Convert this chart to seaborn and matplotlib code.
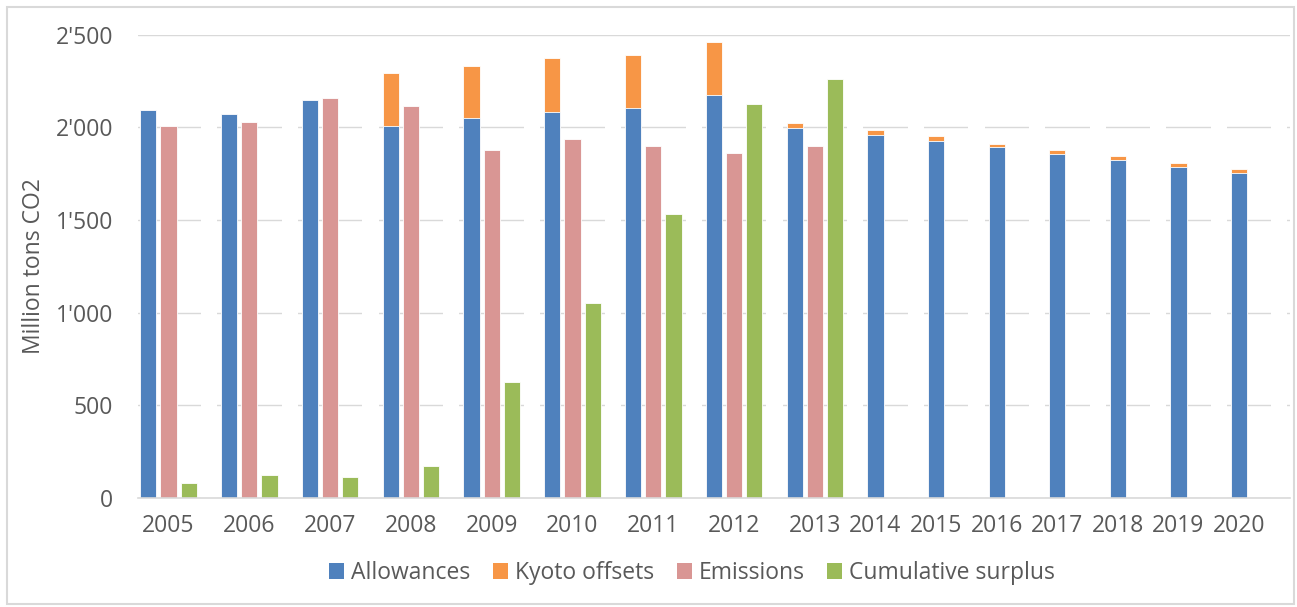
import numpy as np
import pandas as pd
import matplotlib
matplotlib.use("Agg")
import matplotlib.pyplot as plt
import seaborn as sns
from matplotlib.patches import Patch, Rectangle
from matplotlib.ticker import FuncFormatter

# EU ETS supply and demand, million tons CO2
years = [2005, 2006, 2007, 2008, 2009, 2010, 2011, 2012,
         2013, 2014, 2015, 2016, 2017, 2018, 2019, 2020]
allowances = [2095, 2073, 2149, 2005, 2050, 2084, 2104, 2172,
              1996, 1960, 1926, 1893, 1858, 1823, 1788, 1753]
kyoto_offsets = [0, 0, 0, 287, 280, 288, 288, 288,
                 25, 23, 25, 19, 17, 20, 17, 20]
emissions = [2009, 2030, 2158, 2113, 1875, 1935, 1901, 1861, 1901]   # 2005-2013
cumulative_surplus = [81, 124, 113, 169, 624, 1049, 1534, 2127, 2262]  # 2005-2013

y_ticks = [0, 500, 1000, 1500, 2000, 2500]

colors = {
    "Allowances": "#4f81bd",
    "Kyoto offsets": "#f79646",
    "Emissions": "#d99694",
    "Cumulative surplus": "#9bbb59",
    "grid_break": "#ffffff",
}
text_color = "#595959"
grid_color = "#d9d9d9"
font_size = 16.5

sns.set_theme(style="whitegrid")
plt.rcParams["font.family"] = ["Open Sans", "DejaVu Sans"]

# Category centres: years with a full group of three bars take a wider slot
n_hist = len(emissions)
slot = 0.25
centers = [0.0]
for i in range(1, len(years)):
    centers.append(centers[-1] + (1.0 if i < n_hist else 0.75))

rows = []
for i, yr in enumerate(years):
    c = centers[i]
    xa = c - slot if i < n_hist else c
    # offsets are stacked on top of the allowances
    rows.append((xa, allowances[i] + kyoto_offsets[i], "Kyoto offsets"))
    rows.append((xa, allowances[i], "Allowances"))
    if i < n_hist:
        rows.append((c, emissions[i], "Emissions"))
        rows.append((c + slot, cumulative_surplus[i], "Cumulative surplus"))
    # blank spacer column that interrupts the gridlines between groups
    rows.append((c + 2 * slot, y_ticks[-2] + (y_ticks[1] - y_ticks[0]) / 2, "grid_break"))
df = pd.DataFrame(rows, columns=["pos", "value", "series"])

fig = plt.figure(figsize=(12.97, 6.07), dpi=100)
ax = fig.add_axes([138 / 1297, (607 - 497.7) / 607, 1152 / 1297, 463 / 607])

sns.barplot(
    data=df, x="pos", y="value", hue="series",
    hue_order=["grid_break", "Kyoto offsets", "Allowances", "Emissions", "Cumulative surplus"],
    palette=colors, native_scale=True, dodge=False, width=0.8,
    saturation=1, errorbar=None, legend=False,
    edgecolor="white", linewidth=0.6, ax=ax,
)
# spacer columns carry no outline
for p in ax.patches:
    if p.get_facecolor()[:3] == (1.0, 1.0, 1.0):
        p.set_linewidth(0)

ax.set_xlim(centers[0] - 0.3775, centers[-1] + 0.631)
ax.set_ylim(y_ticks[0], y_ticks[-1])
ax.set_yticks(y_ticks)
ax.yaxis.set_major_formatter(FuncFormatter(lambda v, _: f"{int(v):,}".replace(",", "'")))
ax.set_xticks(centers, labels=[str(y) for y in years])
ax.grid(axis="y", color=grid_color, linewidth=1.0)
ax.grid(axis="x", visible=False)
ax.set_axisbelow(True)
for side in ["left", "right", "top"]:
    ax.spines[side].set_visible(False)
ax.spines["bottom"].set_color(grid_color)
ax.spines["bottom"].set_linewidth(1.2)
ax.tick_params(axis="both", length=0, labelsize=font_size, labelcolor=text_color)
ax.tick_params(axis="y", pad=18)
ax.tick_params(axis="x", pad=12)

ax.set_xlabel("")
ax.set_ylabel("Million tons CO2", fontsize=font_size, color=text_color, va="center")
ax.yaxis.set_label_coords((34 - 138) / 1152, 0.5)

handles = [Patch(facecolor=colors[k], edgecolor="none")
           for k in ["Allowances", "Kyoto offsets", "Emissions", "Cumulative surplus"]]
fig.legend(
    handles, ["Allowances", "Kyoto offsets", "Emissions", "Cumulative surplus"],
    loc="center", bbox_to_anchor=(692 / 1297, 1 - 573 / 607), ncol=4, frameon=False,
    fontsize=font_size, labelcolor=text_color, handlelength=0.65, handleheight=0.65,
    handletextpad=0.3, columnspacing=1.0,
)

fig.patches.append(Rectangle((7 / 1297, 3 / 607), 1287 / 1297, 597 / 607,
                             transform=fig.transFigure, fill=False,
                             edgecolor=grid_color, linewidth=1.5))

fig.savefig("out.png", dpi=100, facecolor="white")
